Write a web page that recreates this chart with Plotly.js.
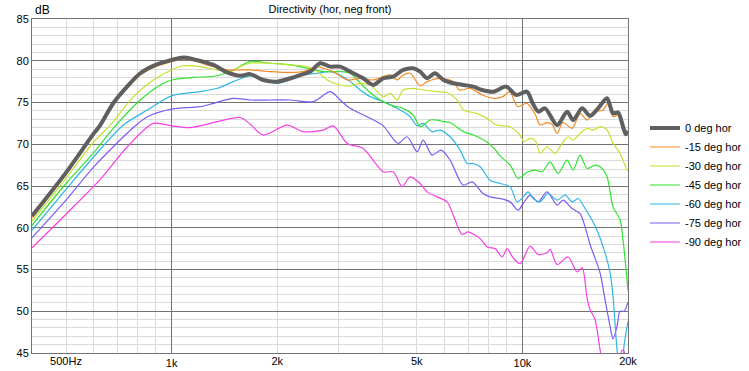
<!DOCTYPE html>
<html>
<head>
<meta charset="utf-8">
<script src="https://cdn.plot.ly/plotly-3.0.1.min.js"></script>
<style>html,body{margin:0;padding:0;background:#fff}#chart{width:749px;height:371px}</style>
</head>
<body>
<div id="chart"></div>
<script>
// ---- data (frequency in Hz, level in dB) ----
const seriesNames = ['0 deg hor','-15 deg hor','-30 deg hor','-45 deg hor','-60 deg hor','-75 deg hor','-90 deg hor'];

const f0 = [400,500,600,626,684,750,814,900,1000,1080,1150,1315,1440,1570,1676,1825,2000,2180,2330,2485,2652,2833,3024,3229,3517,3755,4010,4283,4572,4881,5111,5351,5630,5960,6360,6800,7250,7670,8280,9000,9600,10300,10700,11100,11600,12560,13410,13950,14800,15590,16430,17430,18130,18740,19360,19700,20000];
const db0 = [61.4,66.6,71.3,72.3,75.0,77.0,78.5,79.5,80.1,80.4,80.2,79.5,78.6,78.2,78.4,77.7,77.5,77.9,78.3,78.7,79.7,79.3,79.3,78.7,77.9,77.1,77.9,78.1,78.9,79.1,78.7,77.9,78.5,77.7,77.3,77.1,76.9,76.5,76.3,76.9,75.9,76.3,74.9,73.9,74.3,72.3,73.9,72.9,74.3,73.4,74.3,75.5,73.7,73.8,72.1,71.2,71.6];

const f15 = [400,500,600,626,684,750,814,900,1000,1080,1150,1315,1440,1570,1676,1911,2180,2373,2601,2705,2889,3167,3449,3755,4010,4200,4395,4572,4786,5111,5351,5830,6370,6600,7096,7700,8300,8800,9200,9700,10300,10900,11230,11760,12150,12560,13060,13860,14600,15290,16110,16980,17550,18130,18740,19360,19880,20000];
const db15 = [61.2,66.4,71.1,72.1,74.8,76.8,78.3,79.3,79.9,80.2,80.0,79.3,78.9,78.9,78.9,78.7,78.6,78.7,79.3,79.1,78.7,77.7,77.9,77.7,78.1,78.3,77.7,78.3,78.5,77.0,77.5,77.9,77.5,76.5,76.7,75.9,75.5,75.7,76.3,74.5,74.9,73.5,72.3,72.6,72.4,71.3,72.6,71.9,73.7,72.9,73.9,74.1,74.9,73.3,73.5,71.7,71.3,71.5];

const f30 = [400,500,600,669,778,887,1000,1080,1207,1350,1470,1570,1676,1911,2180,2436,2601,2777,3024,3229,3449,3683,4010,4200,4395,4572,4881,5213,5714,6102,6516,6800,7400,7930,8450,9200,9850,10100,10500,10900,11230,11760,12390,12980,13500,13950,14600,15290,15900,16650,17430,18130,18980,19880,20000];
const db30 = [60.8,65.9,70.3,72.3,75.7,77.7,78.9,79.4,79.3,78.9,78.7,79.3,79.7,79.7,79.5,79.3,78.7,77.7,77.1,77.0,77.3,77.1,75.7,76.1,75.3,76.5,76.7,76.5,76.3,76.2,75.3,74.1,73.7,73.1,72.3,72.1,71.1,70.3,70.7,70.4,68.9,69.7,68.9,70.1,70.9,70.5,71.3,71.9,71.7,72.1,71.7,70.1,68.9,66.9,66.8];

const f45 = [400,500,600,682,814,929,1000,1153,1350,1500,1676,1911,2180,2436,2705,3024,3229,3382,3611,3932,4200,4572,4881,5111,5458,5714,5980,6223,6800,7250,7900,8300,8641,9226,9721,10050,10380,10870,11380,11990,12640,13410,13950,14600,15290,16110,16650,17430,18130,18980,19360,19700,20000];
const db45 = [60.3,65.3,69.0,71.9,75.3,77.1,77.7,78.0,78.2,78.9,79.9,79.7,79.5,79.1,78.7,78.7,78.5,77.7,76.5,75.3,74.7,74.3,73.5,72.1,72.9,72.9,72.7,72.6,71.5,71.1,70.3,69.5,68.6,67.5,65.9,66.3,66.7,66.9,66.7,67.9,66.5,68.1,66.9,68.7,67.1,67.5,67.3,66.1,62.5,61.0,58.5,55.5,52.5];

const f60 = [400,500,600,729,853,1000,1207,1350,1500,1676,1825,2000,2180,2373,2601,2833,3024,3229,3449,3683,4010,4395,4786,5012,5213,5526,5829,6223,6645,6958,7237,7577,8090,8641,9226,9659,10050,10380,10730,11230,11840,12560,13230,13860,14420,15090,15800,16430,17200,17780,18130,18610,18900,19200,19500,20000];
const db60 = [59.7,64.6,68.5,72.3,74.1,75.8,76.3,76.7,77.5,78.2,77.7,77.3,77.7,78.3,78.5,78.7,78.3,77.5,76.5,75.7,75.1,74.3,73.3,72.2,72.5,71.5,71.7,70.9,69.3,67.7,67.7,67.3,65.7,65.3,64.9,63.1,63.7,64.3,63.5,63.1,64.1,63.3,63.9,63.1,63.5,62.3,60.9,59.4,57.0,54.6,51.8,45.4,43.5,43.5,46.0,48.8];

const f75 = [400,500,600,778,853,1000,1207,1315,1500,1676,1911,2180,2534,2833,3024,3229,3611,4010,4424,4693,5012,5213,5526,5866,6223,6778,7190,7727,8090,8641,9226,9721,10050,10520,11080,11760,12560,13060,13860,14600,15090,15590,15900,16650,17200,17780,18130,18610,18980,19490,20000];
const db75 = [58.8,63.3,67.3,72.0,73.3,74.2,74.5,74.9,75.5,75.3,75.3,75.3,75.1,76.3,75.3,74.3,73.3,72.2,70.1,70.9,69.1,70.5,68.7,69.3,68.1,65.1,65.5,64.1,63.7,63.5,63.1,62.1,62.9,63.9,63.1,64.3,62.7,63.3,62.3,61.7,60.1,58.0,57.0,54.6,51.4,48.2,46.7,48.2,50.0,50.0,51.1];

const f90 = [400,505,626,748,887,1000,1131,1350,1570,1676,1825,2136,2373,2705,2889,3167,3517,4010,4283,4542,4786,5111,5351,5714,6102,6733,7004,7577,7932,8360,8755,9045,9409,9850,10520,11080,11760,12000,12560,13500,14320,14800,15290,15590,16110,16650,17200,18500,18980,19200,19490,19700,20000];
const db90 = [57.6,61.8,65.8,69.7,72.5,72.2,72.0,72.7,73.2,72.4,71.1,72.3,71.5,71.7,72.2,70.1,69.5,66.7,66.7,64.9,66.1,65.3,64.3,63.7,63.1,59.2,59.5,58.7,57.7,57.5,56.5,57.5,56.4,55.7,57.8,56.8,57.0,57.4,55.6,56.5,54.7,55.2,51.6,50.2,49.0,45.4,42.0,42.0,44.5,45.3,45.2,44.0,42.0];

// axis ticks
const xMajorTicks = [1000, 10000];
const xMajorText = ['1k', '10k'];
const xLabelTicks = [500, 2000, 5000, 20000];
const xLabelText = ['500Hz', '2k', '5k', '20k'];
const xMinorTicks = [400,500,600,700,800,900,2000,3000,4000,5000,6000,7000,8000,9000,20000];

// ---- styling ----
const colors = ['#5f5f5f','#f28a26','#c3e22c','#2fe22f','#2fb6e6','#7a5cf5','#f83ee6'];
const widths = [4, 1.2, 1.2, 1.2, 1.2, 1.2, 1.2];
const xs = [f0, f15, f30, f45, f60, f75, f90];
const ys = [db0, db15, db30, db45, db60, db75, db90];

const traces = [];
for (let i = seriesNames.length - 1; i >= 0; i--) {
  traces.push({
    type: 'scatter', mode: 'lines', name: seriesNames[i],
    x: xs[i], y: ys[i],
    xaxis: i === 0 ? 'x2' : 'x',
    line: {color: colors[i], width: widths[i], shape: 'spline', smoothing: 0.8},
    hoverinfo: 'skip'
  });
}

const xr = [Math.log10(400), Math.log10(20000)];
const fontFam = '"Liberation Sans", Arial, sans-serif';

const layout = {
  width: 749, height: 371,
  margin: {l: 32, r: 121, t: 19, b: 18, pad: 0, autoexpand: false},
  paper_bgcolor: '#ffffff', plot_bgcolor: '#ffffff',
  font: {family: fontFam, size: 11, color: '#000000'},
  showlegend: true,
  title: {text: 'Directivity (hor, neg front)', font: {family: fontFam, size: 11, color: '#000000'},
          x: 0.5, xref: 'paper', xanchor: 'center', y: 0.976, yref: 'container', yanchor: 'middle'},
  xaxis: {
    type: 'log', range: xr, fixedrange: true,
    tickmode: 'array', tickvals: xMajorTicks, ticktext: xMajorText,
    showgrid: true, gridcolor: '#737373', gridwidth: 1,
    minor: {tickmode: 'array', tickvals: xMinorTicks, showgrid: true, gridcolor: '#dadada', gridwidth: 1, ticks: ''},
    showline: true, linecolor: '#737373', linewidth: 1, mirror: true,
    ticks: '', zeroline: false, tickfont: {size: 11}
  },
  xaxis2: {
    type: 'log', range: xr, overlaying: 'x', anchor: 'y', side: 'bottom', fixedrange: true,
    tickmode: 'array', tickvals: xLabelTicks, ticktext: xLabelText,
    showgrid: false, showline: false, ticks: '', zeroline: false, tickfont: {size: 11}
  },
  yaxis: {
    range: [45, 85], fixedrange: true,
    tickmode: 'linear', tick0: 45, dtick: 5,
    showgrid: true, gridcolor: '#737373', gridwidth: 1,
    minor: {dtick: 1, tick0: 45, showgrid: true, gridcolor: '#dadada', gridwidth: 1, ticks: ''},
    showline: true, linecolor: '#737373', linewidth: 1, mirror: true,
    ticks: '', zeroline: false, tickfont: {size: 11}
  },
  legend: {
    x: 1.0285, xanchor: 'left', y: 0.503, yanchor: 'middle',
    traceorder: 'reversed', font: {family: fontFam, size: 11, color: '#000'},
    bgcolor: 'rgba(0,0,0,0)', borderwidth: 0
  },
  annotations: [{
    text: 'dB', showarrow: false, xref: 'paper', yref: 'paper', x: 0, y: 1,
    xanchor: 'left', yanchor: 'bottom', xshift: 1, font: {family: fontFam, size: 12, color: '#000'}
  }]
};

Plotly.newPlot('chart', traces, layout, {staticPlot: true, displayModeBar: false});
</script>
</body>
</html>
